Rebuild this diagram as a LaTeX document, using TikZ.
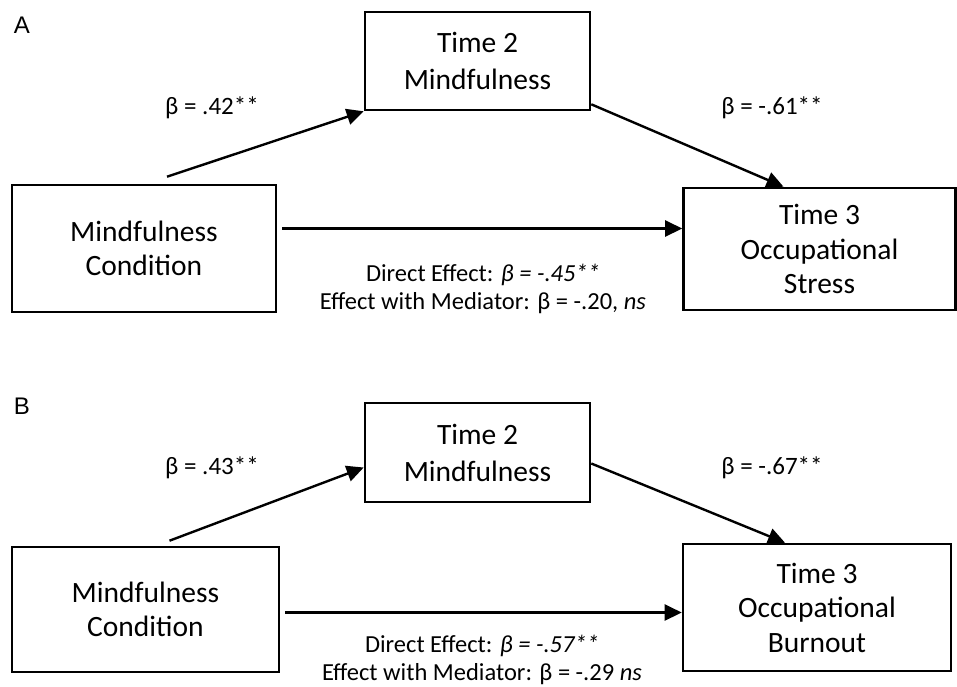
\documentclass[tikz,border=0pt]{standalone}
\usepackage{fontspec}
\setmainfont{Carlito}
\newfontfamily\panelfont{Liberation Sans}
\usetikzlibrary{arrows.meta}

\begin{document}
\begin{tikzpicture}[x=1pt,y=-1pt,
  box/.style={draw,line width=2.6pt,align=center,inner sep=0pt,font=\fontsize{29.5}{34.5}\selectfont},
  midbox/.style={box,font=\fontsize{29.5}{37}\selectfont},
  arr/.style={line width=2.4pt,-{Triangle[length=17pt,width=16pt]}},
  coef/.style={font=\fontsize{25}{29}\selectfont},
  effect/.style={align=center,font=\fontsize{24.5}{28}\selectfont},
  panel/.style={font=\panelfont\fontsize{24}{28}\selectfont}]
\useasboundingbox (0,0) rectangle (957,686);
% panel A
\node[panel] (pa) at (22,25) {A};
\node[midbox,minimum width=225pt,minimum height=98pt] (ma) at (477.5,61) {Time 2\\Mindfulness};
\node[box,minimum width=264pt,minimum height=127pt] (xa) at (144,248.5) {Mindfulness\\Condition};
\node[box,minimum width=272pt,minimum height=122pt] (ya) at (819.5,249) {Time 3\\Occupational\\Stress};
\draw[arr] ([xshift=23pt,yshift=7pt]xa.north)--(ma.south west);
\draw[arr] ([yshift=7pt]ma.south east)--([xshift=-36pt]ya.north);
\draw[arr] ([xshift=5pt,yshift=20pt]xa.east) coordinate (ca)--(ca -| ya.west);
\node[coef] (aa) at (212,108) {β = .42**};
\node[coef] (ba) at (772,108) {β = -.61**};
\node[effect] (ea) at (483,289) {Direct Effect: \textit{β = -.45**}\\Effect with Mediator: β = -.20, \textit{ns}};
% panel B
\node[panel] (pb) at (22,406) {B};
\node[midbox,minimum width=225pt,minimum height=99pt] (mb) at (477.5,452.5) {Time 2\\Mindfulness};
\node[box,minimum width=267pt,minimum height=125pt] (xb) at (145.5,609.5) {Mindfulness\\Condition};
\node[box,minimum width=268pt,minimum height=127pt] (yb) at (817,607.5) {Time 3\\Occupational\\Burnout};
\draw[arr] ([xshift=24pt,yshift=5pt]xb.north)--([yshift=-15pt]mb.west);
\draw[arr] ([yshift=-11pt]mb.east)--([xshift=-32pt]yb.north);
\draw[arr] ([xshift=5pt,yshift=-3pt]xb.east) coordinate (cb)--(cb -| yb.west);
\node[coef] (ab) at (212,468) {β = .43**};
\node[coef] (bb) at (772,468) {β = -.67**};
\node[effect] (eb) at (482,660) {Direct Effect: \textit{β = -.57**}\\Effect with Mediator: β = -.29 \textit{ns}};
\end{tikzpicture}
\end{document}
